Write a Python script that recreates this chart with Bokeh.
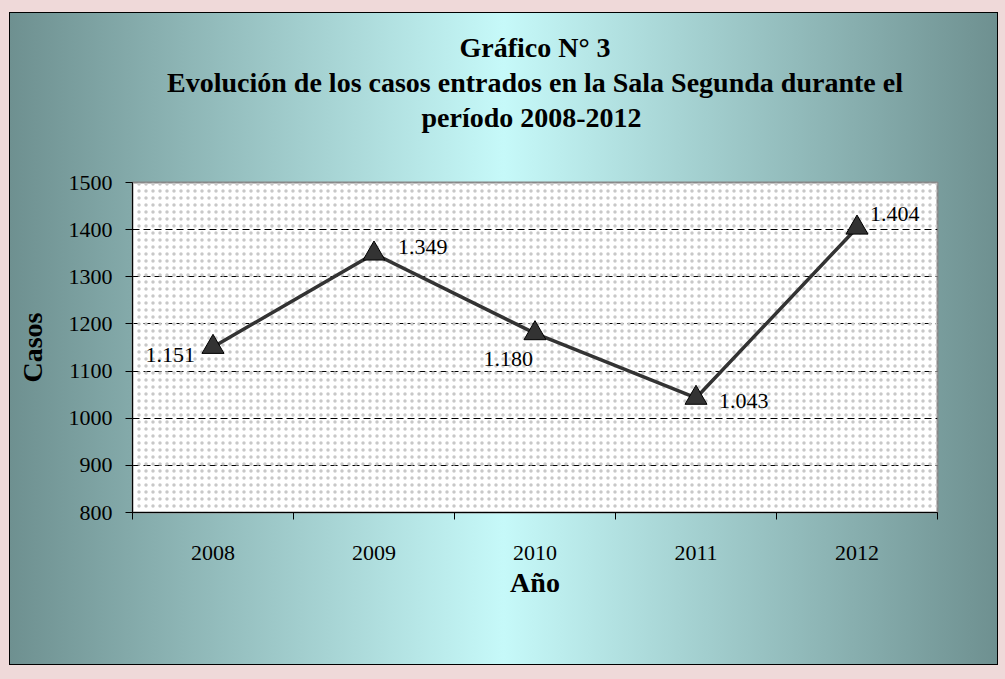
from bokeh.plotting import figure
from bokeh.models import (Range1d, FixedTicker, ColumnDataSource, LabelSet, Title,
                          BoxAnnotation, InlineStyleSheet, GlobalInlineStyleSheet)
from bokeh.embed import file_html
from bokeh.resources import INLINE

# ---- data ----
years = ["2008", "2009", "2010", "2011", "2012"]
casos = [1151, 1349, 1180, 1043, 1404]
value_labels = ["1.151", "1.349", "1.180", "1.043", "1.404"]
y_ticks = [800, 900, 1000, 1100, 1200, 1300, 1400, 1500]

title_lines = ["Gráfico N° 3",
               "Evolución de los casos entrados en la Sala Segunda durante el",
               "período  2008-2012"]

# ---- placement / style (screen px) ----
label_dx = [-18, 24, -2, 23, 13]
label_dy = [-8, 7, -26, -3, 14]
label_align = ["right", "left", "right", "left", "left"]

FONT = "Liberation Serif"

xs = [i + 0.5 for i in range(len(years))]
src = ColumnDataSource(dict(x=xs, y=casos, lab=value_labels,
                            dx=label_dx, dy=label_dy, al=label_align))

p = figure(width=989, height=653, output_backend="svg", toolbar_location=None,
           title=None,
           x_range=Range1d(0, len(years)), y_range=Range1d(y_ticks[0], y_ticks[-1]),
           min_border_left=123, min_border_right=61,
           min_border_top=170, min_border_bottom=153)
p.margin = (12, 0, 0, 9)

p.border_fill_alpha = 0
p.background_fill_color = "white"
p.outline_line_color = "#888888"
p.outline_line_width = 2

p.stylesheets = [
    InlineStyleSheet(css=":host { background: linear-gradient(to right, #6e9090 0%, #c6f9f9 50%, #6e9090 100%); box-shadow: inset 0 0 0 1px #000; }"),
    GlobalInlineStyleSheet(css="body { background: #efd9d9; }"),
]

# dotted plot-area pattern
dots = BoxAnnotation(fill_alpha=0, line_alpha=0, hatch_pattern="dot",
                     hatch_color="#c8c8c8", hatch_scale=7, hatch_weight=1,
                     level="underlay")
p.add_layout(dots)

# spacer between title block and plot frame (added first = nearest the frame)
p.add_layout(Title(text="\u00a0", text_font_size="2px", standoff=45), "above")
# title lines, bottom line first
for txt in reversed(title_lines):
    p.add_layout(Title(text=txt, align="center", text_font=FONT,
                       text_font_size="28px", text_font_style="bold",
                       text_color="black", standoff=2), "above")

# axes
for ax in (p.xaxis[0], p.yaxis[0]):
    ax.axis_line_color = "black"
    ax.axis_line_width = 1
    ax.major_label_text_font = FONT
    ax.major_label_text_font_size = "22px"
    ax.major_label_text_color = "black"
    ax.axis_label_text_font = FONT
    ax.axis_label_text_font_size = "28px"
    ax.axis_label_text_font_style = "bold"
    ax.axis_label_text_color = "black"

p.xaxis.ticker = FixedTicker(ticks=xs, minor_ticks=list(range(len(years) + 1)))
p.xaxis.major_label_overrides = {x: y for x, y in zip(xs, years)}
p.xaxis.major_tick_out = 0
p.xaxis.major_tick_in = 0
p.xaxis.minor_tick_out = 7
p.xaxis.minor_tick_in = 0
p.xaxis.minor_tick_line_color = "black"
p.xaxis.major_label_standoff = 26
p.xaxis.axis_label = "Año"
p.xaxis.axis_label_standoff = 4

p.yaxis.ticker = FixedTicker(ticks=y_ticks)
p.yaxis.major_tick_out = 7
p.yaxis.major_tick_in = 0
p.yaxis.major_tick_line_color = "black"
p.yaxis.minor_tick_line_color = None
p.yaxis.major_label_standoff = 13
p.yaxis.axis_label = "Casos"
p.yaxis.axis_label_standoff = 18

p.xgrid.visible = False
p.ygrid.ticker = FixedTicker(ticks=y_ticks[1:-1])
p.ygrid.grid_line_color = "black"
p.ygrid.grid_line_dash = "7 4"
p.ygrid.grid_line_width = 1

# series
p.line("x", "y", source=src, line_color="#333333", line_width=3.5)
p.scatter("x", "y", source=src, marker="triangle", size=22,
          fill_color="#333333", line_color="black", line_width=1)

p.add_layout(LabelSet(x="x", y="y", text="lab", source=src,
                      x_offset="dx", y_offset="dy", text_align="al",
                      text_baseline="middle", text_font=FONT,
                      text_font_size="22px", text_color="black"))

open("out.html", "w").write(file_html(p, INLINE))
